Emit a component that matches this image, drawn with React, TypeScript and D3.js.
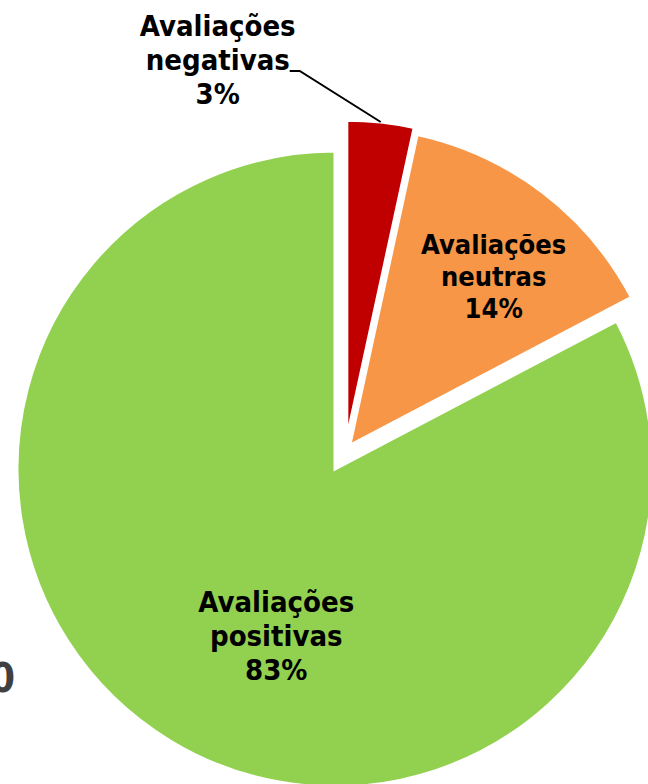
import React from "react";
import * as d3 from "d3";

// ---- data ----
const categories = ["Avaliações negativas", "Avaliações neutras", "Avaliações positivas"];
const labelLine1 = ["Avaliações", "Avaliações", "Avaliações"];
const labelLine2 = ["negativas", "neutras", "positivas"];
const values = [3.4, 13.9, 82.7];
const colors = ["#C00000", "#F79646", "#92D050"];

// ---- layout ----
const W = 648;
const H = 784;
const CX = 335;
const CY = 469;
const R = 318;
// explode offsets (distance px, direction deg clockwise from top)
const explodeDist = [33, 28, 0];
const explodeDir = [21, 32, 0];
// label placement: polar from slice apex (fraction of R, deg) ; null => outside label
const labelPolar: (null | [number, number])[] = [null, [0.676, 42], [0.585, 198.4]];
const labelSize = [29, 27, 29];
const labelLead = [34, 32, 34];

function polar(r: number, deg: number): [number, number] {
  const a = (deg * Math.PI) / 180;
  return [r * Math.sin(a), -r * Math.cos(a)];
}

export default function App() {
  const total = d3.sum(values);
  const pie = d3
    .pie<number>()
    .sort(null)
    .value((d) => d)
    .startAngle(0)
    .endAngle(2 * Math.PI);
  const arcs = pie(values);
  const arcGen = d3.arc<d3.PieArcDatum<number>>().innerRadius(0).outerRadius(R);
  const fmt = (v: number) => `${Math.round((v / total) * 100)}%`;
  const font = "'DejaVu Sans Condensed', 'DejaVu Sans', sans-serif";

  return (
    <svg
      width={W}
      height={H}
      style={{ position: "absolute", left: 0, top: 0, background: "#fff" }}
    >
      <text
        x={15}
        y={692}
        textAnchor="end"
        fontFamily={font}
        fontStretch="condensed"
        fontWeight="bold"
        fontSize={40}
        fill="#404040"
      >
        0
      </text>
      {arcs.map((a, i) => {
        const [dx, dy] = polar(explodeDist[i], explodeDir[i]);
        return (
          <path
            key={categories[i]}
            d={arcGen(a) || ""}
            transform={`translate(${CX + dx},${CY + dy})`}
            fill={colors[i]}
            stroke="#fff"
            strokeWidth={3}
            strokeLinejoin="miter"
          />
        );
      })}
      {arcs.map((a, i) => {
        const [dx, dy] = polar(explodeDist[i], explodeDir[i]);
        const ax = CX + dx;
        const ay = CY + dy;
        const lp = labelPolar[i];
        const fs = labelSize[i];
        const lead = labelLead[i];
        const lines = [labelLine1[i], labelLine2[i], fmt(values[i])];
        let lx: number, ly: number;
        let leader: React.ReactNode = null;
        if (lp) {
          const [px, py] = polar(lp[0] * R, lp[1]);
          lx = ax + px;
          ly = ay + py; // baseline of middle line
        } else {
          const mid = ((a.startAngle + a.endAngle) / 2) * (180 / Math.PI);
          const [ox, oy] = polar(R, mid);
          const sx = ax + ox;
          const sy = ay + oy;
          const elbowX = sx - 81;
          const elbowY = sy - 51;
          leader = (
            <polyline
              points={`${sx},${sy} ${elbowX},${elbowY} ${elbowX - 10},${elbowY}`}
              fill="none"
              stroke="#000"
              strokeWidth={2}
            />
          );
          lx = elbowX - 82;
          ly = elbowY - 1;
        }
        const firstBaseline = ly - lead;
        return (
          <g key={"lab" + i}>
            {leader}
            <text
              textAnchor="middle"
              fontFamily={font}
              fontStretch="condensed"
              fontWeight="bold"
              fontSize={fs}
              fill="#000"
            >
              {lines.map((t, k) => (
                <tspan key={k} x={lx} y={firstBaseline + k * lead}>
                  {t}
                </tspan>
              ))}
            </text>
          </g>
        );
      })}
    </svg>
  );
}
